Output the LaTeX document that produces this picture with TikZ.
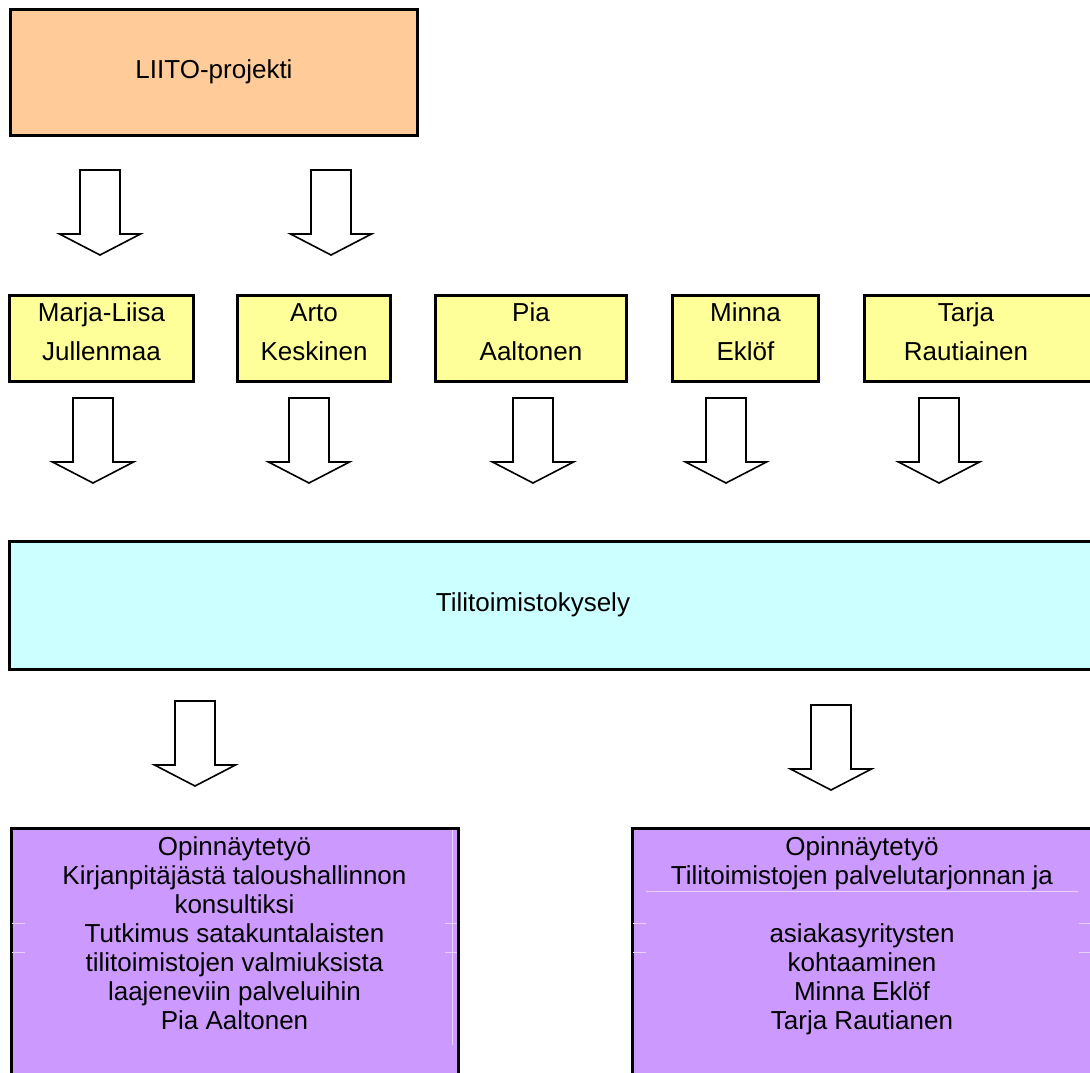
\documentclass[tikz,border=0pt]{standalone}
\usepackage{fontspec}
\setmainfont{Liberation Sans}
\usetikzlibrary{calc}

\definecolor{liitoorange}{HTML}{FFCC99}
\definecolor{nameyellow}{HTML}{FFFF99}
\definecolor{surveycyan}{HTML}{CCFFFF}
\definecolor{thesispurple}{HTML}{CC99FF}

% hollow block arrow pointing down, #1 = middle of its top edge
\newcommand{\hollowarrow}[1]{%
  \draw[hollow] ($(#1)+(-20,0)$) -- ++(0,64) -- ++(-20.5,0) -- ($(#1)+(0,85)$)
    -- ++(40.5,-21) -- ++(-20.5,0) -- ++(0,-64) -- cycle;}

\begin{document}
\begin{tikzpicture}[x=1pt, y=-1pt,
        box/.style={draw, line width=3pt, inner sep=0pt, font=\fontsize{26}{29}\selectfont},
        topbox/.style={box, fill=liitoorange, minimum width=407pt, minimum height=126pt},
        namebox/.style={box, fill=nameyellow, minimum height=86pt},
        surveybox/.style={box, fill=surveycyan, minimum width=1091pt, minimum height=128pt},
        thesisbox/.style={box, fill=thesispurple, minimum height=300pt},
        boxtext/.style={align=center, inner sep=0pt, font=\fontsize{26}{29}\selectfont},
        nametext/.style={boxtext, font=\fontsize{26}{39}\selectfont},
        hollow/.style={draw, line width=1.6pt, fill=white, line join=miter},
        faint/.style={draw=white!55!thesispurple, line width=0.8pt},
    ]
        \useasboundingbox (0,0) rectangle (1090,1072);
        \clip (0,0) rectangle (1090,1072);

        % Project
        \node[topbox] (liito) at (214,72) {LIITO-projekti};

        % People
        \node[namebox, minimum width=184pt] (julle) at (101.5,338.5) {};
        \node[namebox, minimum width=153pt] (keski) at (314,338.5) {};
        \node[namebox, minimum width=191pt] (aalto) at (531,338.5) {};
        \node[namebox, minimum width=146pt] (eklof) at (745.5,338.5) {};
        \node[namebox, minimum width=250pt] (rauti) at (989.5,338.5) {};
        \node[nametext, anchor=north] (julletext) at (101.5,302) {Marja-Liisa\\Jullenmaa};
        \node[nametext, anchor=north] (keskitext) at (314,302) {\vphantom{li}Arto\\Keskinen};
        \node[nametext, anchor=north] (aaltotext) at (531,302) {Pia\\Aaltonen};
        \node[nametext, anchor=north] (ekloftext) at (745.5,302) {Minna\\Eklöf};
        \node[nametext, anchor=north] (rautitext) at (966,302) {Tarja\\Rautiainen};

        % Survey
        \node[surveybox] (survey) at (555,605.5) {};
        \node[boxtext] (surveytext) at (533,604.5) {Tilitoimistokysely};

        % Theses
        \node[thesisbox, minimum width=447pt] (thesisa) at (234.5,978) {};
        \node[thesisbox, minimum width=468pt] (thesisb) at (866,978) {};
        \draw[faint] (452,830) -- (452,1045);
        \draw[faint] (12,923) -- (25,923) (12,952) -- (25,952);
        \draw[faint] (445,923) -- (457,923) (445,952) -- (457,952);
        \draw[faint] (646,891) -- (1078,891);
        \draw[faint] (633,923) -- (646,923) (633,952) -- (646,952);
        \draw[faint] (1079,923) -- (1090,923) (1079,952) -- (1090,952);
        \node[boxtext, anchor=north] (thesisatext) at (234.5,836) {Opinnäytetyö\\Kirjanpitäjästä taloushallinnon\\konsultiksi\\Tutkimus satakuntalaisten\\tilitoimistojen valmiuksista\\laajeneviin palveluihin\\Pia Aaltonen};
        \node[boxtext, anchor=north] (thesisbtext) at (862,836) {Opinnäytetyö\\Tilitoimistojen palvelutarjonnan ja\\[29pt]asiakasyritysten\\kohtaaminen\\Minna Eklöf\\Tarja Rautianen};

        % Arrows: project -> people
        \coordinate (liito-julle) at (100,170);
        \coordinate (liito-keski) at (331,170);
        \hollowarrow{liito-julle}
        \hollowarrow{liito-keski}

        % Arrows: people -> survey
        \coordinate (julle-survey) at (93,398);
        \coordinate (keski-survey) at (309,398);
        \coordinate (aalto-survey) at (533,398);
        \coordinate (eklof-survey) at (726,398);
        \coordinate (rauti-survey) at (939,398);
        \hollowarrow{julle-survey}
        \hollowarrow{keski-survey}
        \hollowarrow{aalto-survey}
        \hollowarrow{eklof-survey}
        \hollowarrow{rauti-survey}

        % Arrows: survey -> theses
        \coordinate (survey-thesisa) at (195,701);
        \coordinate (survey-thesisb) at (831,705);
        \hollowarrow{survey-thesisa}
        \hollowarrow{survey-thesisb}
    \end{tikzpicture}
\end{document}
